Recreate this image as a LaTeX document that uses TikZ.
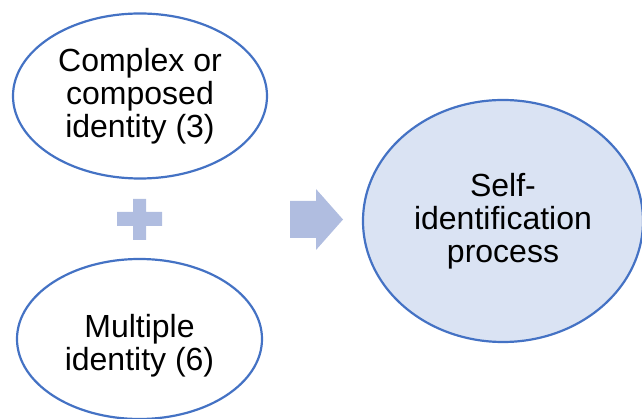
\documentclass[tikz,border=0pt]{standalone}
\usepackage{fontspec}
\setmainfont{Liberation Sans}
\usetikzlibrary{shapes.geometric}
\definecolor{edgeblue}{HTML}{4472C4}
\definecolor{fillblue}{HTML}{DAE3F3}
\definecolor{symblue}{HTML}{B0BDE0}
\begin{document}
\begin{tikzpicture}[x=1pt,y=-1pt,
  oval/.style={ellipse,draw=edgeblue,line width=2.2pt,inner sep=0pt,align=center,
    font=\fontsize{32}{33}\selectfont},
  sym/.style={fill=symblue,draw=none}]
\useasboundingbox (0,0) rectangle (642,419);
\node[oval,minimum width=254,minimum height=165,fill=white] (complex) at (140,96)
  {Complex or\\composed\\identity (3)};
\node[oval,minimum width=245,minimum height=160,fill=white,
  label={[align=center,font=\fontsize{32}{33}\selectfont,yshift=-7pt]center:Multiple\\identity (6)}]
  (multiple) at (139.5,339) {};
\node[oval,minimum width=280,minimum height=242,fill=fillblue] (self) at (503,221)
  {Self-\\identification\\process};
% plus sign
\path[sym] (133,199) -- (146,199) -- (146,212) -- (162,212) -- (162,226) -- (146,226)
  -- (146,240) -- (133,240) -- (133,226) -- (117,226) -- (117,212) -- (133,212) -- cycle;
% block arrow
\path[sym] (290,201) -- (316,201) -- (316,189) -- (343,219.5) -- (316,250) -- (316,238)
  -- (290,238) -- cycle;
\end{tikzpicture}
\end{document}
